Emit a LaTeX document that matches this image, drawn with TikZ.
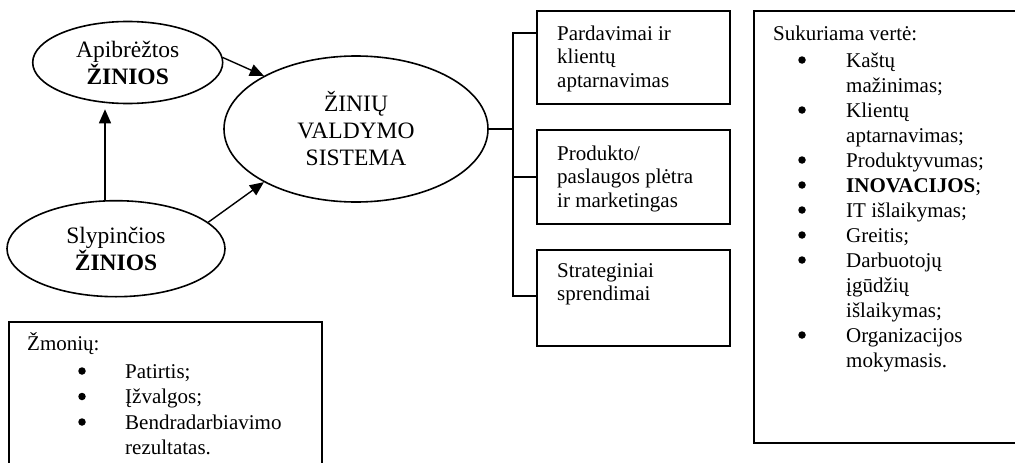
\documentclass[tikz,border=0pt]{standalone}
\usepackage{fontspec}
\setmainfont{Liberation Serif}
\usetikzlibrary{shapes.geometric,arrows.meta}
\tikzset{
  bx/.style={draw, line width=1.6pt, inner sep=0pt, anchor=north west},
  el/.style={draw, ellipse, line width=1.6pt, inner sep=0pt, align=center,
             font=\fontsize{23.5}{27}\selectfont},
  tx/.style={anchor=base west, inner sep=0pt, font=\fontsize{21}{24}\selectfont},
  bul/.style={circle, fill, inner sep=0pt, minimum size=7.5pt, yshift=7pt},
  arr/.style={line width=1.4pt, -{Triangle[length=14pt,width=12pt]}},
  ln/.style={line width=1.6pt},
}
\begin{document}
\begin{tikzpicture}[x=1pt,y=-1pt]
\useasboundingbox (0,0) rectangle (1015,463);
\clip (0,0) rectangle (1015,463);
% ellipses
\node[el, minimum width=190pt, minimum height=82pt] (apib) at (127.7,62.5) {Apibrėžtos\\\textbf{ŽINIOS}};
\node[el, minimum width=264pt, minimum height=146pt] (cen) at (356,129) {ŽINIŲ\\VALDYMO\\SISTEMA};
\node[el, minimum width=218pt, minimum height=96pt] (slyp) at (116,248.7) {Slypinčios\\\textbf{ŽINIOS}};
% arrows
\coordinate (vx) at (105,0);
\draw[arr] (slyp.north -| vx) -- ([yshift=-5pt]apib.south -| vx);
\draw[arr] (apib.3) -- (cen.150);
\draw[arr] (slyp.16) -- (cen.210);
% boxes
\node[bx, minimum width=193pt, minimum height=93pt] (b1) at (536,10) {};
\node[bx, minimum width=193pt, minimum height=94pt] (b2) at (536,129) {};
\node[bx, minimum width=193pt, minimum height=96pt] (b3) at (536,249) {};
\node[tx] (b1a) at (557,40) {Pardavimai ir};
\node[tx] (b1b) at (557,63.5) {klientų};
\node[tx] (b1c) at (557,87) {aptarnavimas};
\node[tx] (b2a) at (557,160) {Produkto/};
\node[tx] (b2b) at (557,183.5) {paslaugos plėtra};
\node[tx] (b2c) at (557,207) {ir marketingas};
\node[tx] (b3a) at (557,277) {Strateginiai};
\node[tx] (b3b) at (557,300.5) {sprendimai};
% bracket
\coordinate (bx) at (513,129);
\coordinate (k1) at (536,33);
\coordinate (k2) at (536,177);
\coordinate (k3) at (536,296);
\draw[ln] (cen.east) -- (bx);
\draw[ln] (k1) -- (k1 -| bx) -- (k3 -| bx) -- (k3);
\draw[ln] (k2) -- (k2 -| bx);
% value box
\node[bx, minimum width=320pt, minimum height=432pt] (val) at (753,10) {};
\node[tx] (valh) at (773,40) {Sukuriama vertė:};
\foreach \i/\t/\b in {0/Kaštų/1,1/mažinimas;/0,2/Klientų/1,3/aptarnavimas;/0,
  4/Produktyvumas;/1,5/\textbf{INOVACIJOS};/1,6/IT išlaikymas;/1,7/Greitis;/1,
  8/Darbuotojų/1,9/įgūdžių/0,10/išlaikymas;/0,11/Organizacijos/1,12/mokymasis./0}{
  \node[tx] (v\i) at (846,67+25*\i) {\t};
  \ifnum\b=1 \node[bul] (vb\i) at (802,67+25*\i) {};\fi
}
% people box
\node[bx, minimum width=313pt, minimum height=200pt] (ppl) at (8,321) {};
\node[tx] (pplh) at (27,350) {Žmonių:};
\foreach \i/\t/\b in {0/Patirtis;/1,1/Įžvalgos;/1,2/Bendradarbiavimo/1,3/rezultatas./0}{
  \node[tx] (p\i) at (125,378+25.5*\i) {\t};
  \ifnum\b=1 \node[bul] (pb\i) at (82,378+25.5*\i) {};\fi
}
\end{tikzpicture}
\end{document}
